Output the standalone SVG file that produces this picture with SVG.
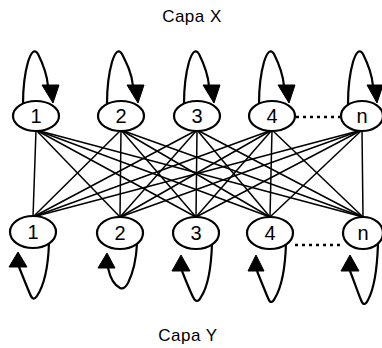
<svg xmlns="http://www.w3.org/2000/svg" width="382" height="348" viewBox="0 0 382 348">
<style>
.n{fill:#fff;stroke:#000;stroke-width:2.2}
.lp{fill:none;stroke:#000;stroke-width:2.2;stroke-linejoin:round}
.ah{fill:#000;stroke:#000;stroke-width:1}
.t{font-family:"Liberation Sans",Arial,sans-serif;font-size:20px;fill:#000;text-anchor:middle}
.cap{font-family:"Liberation Sans",Arial,sans-serif;font-size:17px;fill:#000;text-anchor:middle;letter-spacing:0.5px}
.e{stroke:#000;stroke-width:1.5;fill:none}
.d{stroke:#000;stroke-width:2.5;stroke-dasharray:3 4;fill:none}
</style>
<rect width="382" height="348" fill="#fff"/>
<text class="cap" x="192" y="22">Capa X</text>
<text class="cap" x="188" y="341">Capa Y</text>
<g id="connectors">
<line class="e" x1="36" y1="130" x2="33" y2="217"/>
<line class="e" x1="36" y1="130" x2="120" y2="217"/>
<line class="e" x1="36" y1="130" x2="196" y2="217"/>
<line class="e" x1="36" y1="130" x2="270" y2="217"/>
<line class="e" x1="36" y1="130" x2="363" y2="217"/>
<line class="e" x1="121" y1="130" x2="33" y2="217"/>
<line class="e" x1="121" y1="130" x2="120" y2="217"/>
<line class="e" x1="121" y1="130" x2="196" y2="217"/>
<line class="e" x1="121" y1="130" x2="270" y2="217"/>
<line class="e" x1="121" y1="130" x2="363" y2="217"/>
<line class="e" x1="197" y1="130" x2="33" y2="217"/>
<line class="e" x1="197" y1="130" x2="120" y2="217"/>
<line class="e" x1="197" y1="130" x2="196" y2="217"/>
<line class="e" x1="197" y1="130" x2="270" y2="217"/>
<line class="e" x1="197" y1="130" x2="363" y2="217"/>
<line class="e" x1="272" y1="130" x2="33" y2="217"/>
<line class="e" x1="272" y1="130" x2="120" y2="217"/>
<line class="e" x1="272" y1="130" x2="196" y2="217"/>
<line class="e" x1="272" y1="130" x2="270" y2="217"/>
<line class="e" x1="272" y1="130" x2="363" y2="217"/>
<line class="e" x1="362" y1="130" x2="33" y2="217"/>
<line class="e" x1="362" y1="130" x2="120" y2="217"/>
<line class="e" x1="362" y1="130" x2="196" y2="217"/>
<line class="e" x1="362" y1="130" x2="270" y2="217"/>
<line class="e" x1="362" y1="130" x2="363" y2="217"/>
<line class="d" x1="296" y1="117" x2="340" y2="117"/>
<line class="d" x1="295" y1="245" x2="342" y2="245"/>
</g>
<g id="x1" transform="translate(36,116)">
<path class="lp" d="M-13,-12 C-13,-25 -12,-40 -8,-54 Q-3,-70 2,-62 C7,-52 11,-42 12,-30"/>
<polygon class="ah" points="6,-31 23,-31 17,-13"/>
<ellipse class="n" cx="0" cy="0" rx="23" ry="15"/>
<text class="t" x="0" y="7">1</text>
</g>
<g id="x2" transform="translate(121,116)">
<path class="lp" d="M-14,-12 C-14,-25 -13,-40 -9,-54 Q-4,-70 1,-62 C6,-52 11,-42 12,-30"/>
<polygon class="ah" points="6,-31 23,-31 17,-13"/>
<ellipse class="n" cx="0" cy="0" rx="23" ry="15"/>
<text class="t" x="0" y="7">2</text>
</g>
<g id="x3" transform="translate(197,116)">
<path class="lp" d="M-13,-12 C-13,-25 -12,-40 -8,-54 Q-3,-70 2,-62 C7,-52 11,-42 12,-30"/>
<polygon class="ah" points="6,-31 23,-31 17,-13"/>
<ellipse class="n" cx="0" cy="0" rx="23" ry="15"/>
<text class="t" x="0" y="7">3</text>
</g>
<g id="x4" transform="translate(272,116)">
<path class="lp" d="M-13,-12 C-13,-25 -12,-40 -8,-54 Q-3,-70 2,-62 C7,-52 11,-42 12,-30"/>
<polygon class="ah" points="6,-31 23,-31 17,-13"/>
<ellipse class="n" cx="0" cy="0" rx="23" ry="15"/>
<text class="t" x="0" y="7">4</text>
</g>
<g id="xn" transform="translate(362,116)">
<path class="lp" d="M-14,-12 C-14,-25 -13,-40 -9,-54 Q-4,-70 1,-62 C6,-52 10,-42 11,-30"/>
<polygon class="ah" points="5,-31 21,-31 15,-13"/>
<ellipse class="n" cx="0" cy="0" rx="21" ry="15"/>
<text class="t" x="0" y="7">n</text>
</g>
<g id="y1" transform="translate(33,232)">
<path class="lp" d="M-14,35 C-10,45 -6,55 -3,62 Q0,70 4,64 C10,55 15,40 16,11"/>
<polygon class="ah" points="-24,35 -6,35 -15,20"/>
<ellipse class="n" cx="0" cy="0" rx="23" ry="16"/>
<text class="t" x="0" y="7">1</text>
</g>
<g id="y2" transform="translate(120,233)">
<path class="lp" d="M-12,35 C-10,44 -6,52 0,55 Q4,57 8,50 C12,42 16,30 17,11"/>
<polygon class="ah" points="-22,35 -5,35 -13,20"/>
<ellipse class="n" cx="0" cy="0" rx="23" ry="16"/>
<text class="t" x="0" y="7">2</text>
</g>
<g id="y3" transform="translate(196,233)">
<path class="lp" d="M-14,38 C-10,48 -6,58 -3,64 Q1,72 5,64 C11,55 15,40 16,11"/>
<polygon class="ah" points="-24,38 -6,38 -15,22"/>
<ellipse class="n" cx="0" cy="0" rx="23" ry="16"/>
<text class="t" x="0" y="7">3</text>
</g>
<g id="y4" transform="translate(270,233)">
<path class="lp" d="M-13,38 C-9,48 -5,58 -2,65 Q1,73 5,65 C11,55 15,40 16,11"/>
<polygon class="ah" points="-22,38 -6,38 -14,22"/>
<ellipse class="n" cx="0" cy="0" rx="23" ry="16"/>
<text class="t" x="0" y="7">4</text>
</g>
<g id="yn" transform="translate(363,233)">
<path class="lp" d="M-13,38 C-9,48 -5,60 -2,67 Q1,75 5,67 C11,56 14,40 15,11"/>
<polygon class="ah" points="-22,38 -4,38 -13,22"/>
<ellipse class="n" cx="0" cy="0" rx="20" ry="16"/>
<text class="t" x="0" y="7">n</text>
</g>
</svg>
